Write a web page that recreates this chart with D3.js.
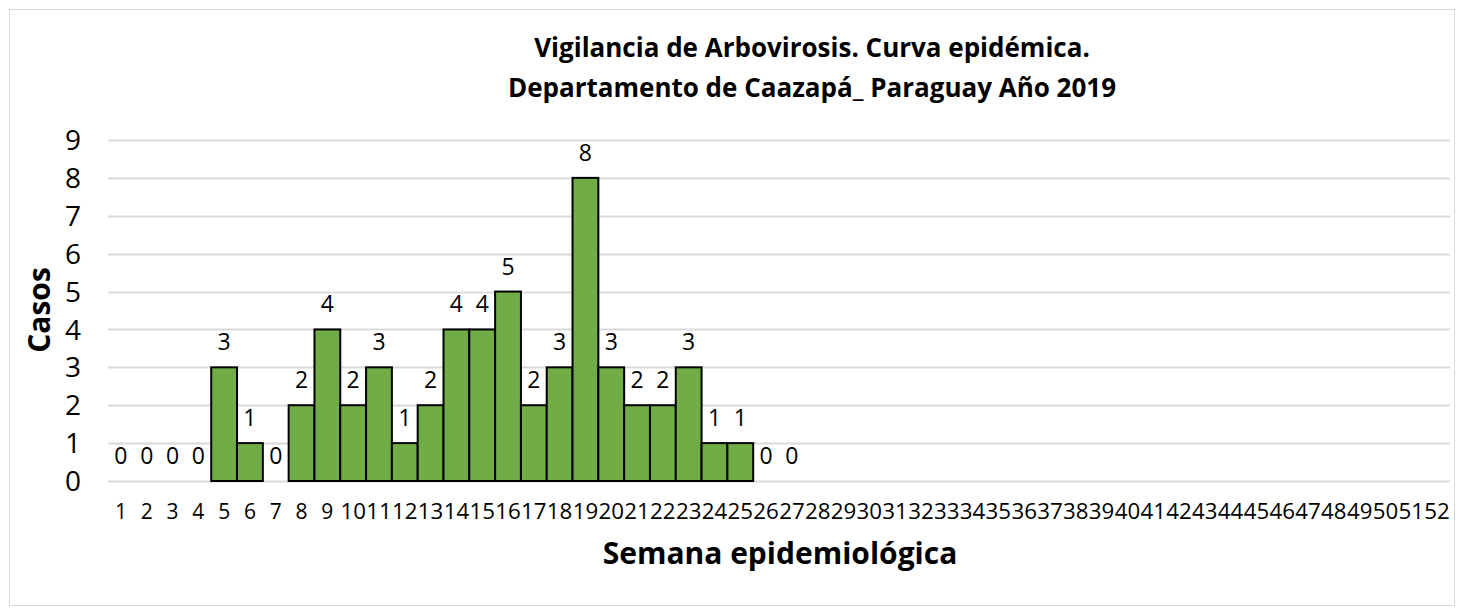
<!DOCTYPE html>
<html>
<head>
<meta charset="utf-8">
<script src="https://cdn.jsdelivr.net/npm/d3@7"></script>
<style>
  body { margin: 0; background: #fff; }
  text { font-family: "Open Sans", "Noto Sans", sans-serif; fill: #000; }
</style>
</head>
<body>
<svg id="chart" width="1463" height="610"></svg>
<script>
// semanas 1..52, casos (null = sin dato)
var weeks = d3.range(1, 53).map(String);
var cases = [0, 0, 0, 0, 3, 1, 0, 2, 4, 2, 3, 1, 2, 4, 4, 5, 2, 3, 8, 3, 2, 2, 3, 1, 1, 0, 0];
var yTicks = [0, 1, 2, 3, 4, 5, 6, 7, 8, 9];
var titleLines = ["Vigilancia de Arbovirosis. Curva epidémica.", "Departamento de Caazapá_ Paraguay Año 2019"];

var data = weeks.map(function (w, i) {
    return { week: w, value: i < cases.length ? cases[i] : null };
});

var svg = d3.select("#chart");
var plotL = 108, plotR = 1450, plotT = 140, plotB = 481;

svg.append("rect")
    .attr("x", 9.5).attr("y", 9.5)
    .attr("width", 1445).attr("height", 596)
    .attr("fill", "#fff")
    .attr("stroke", "#d9d9d9");

var x = d3.scaleBand().domain(weeks).range([plotL, plotR]).padding(0);
var y = d3.scaleLinear().domain([0, 9]).range([plotB, plotT]);

// gridlines
svg.append("g")
    .selectAll("line")
    .data(yTicks)
    .join("line")
    .attr("x1", plotL).attr("x2", plotR)
    .attr("y1", function (d) { return Math.round(y(d)) + 0.5; })
    .attr("y2", function (d) { return Math.round(y(d)) + 0.5; })
    .attr("stroke", "#d9d9d9")
    .attr("stroke-width", 2);

// y labels
svg.append("g")
    .selectAll("text")
    .data(yTicks)
    .join("text")
    .attr("x", 81)
    .attr("y", function (d) { return y(d); })
    .attr("dy", "0.36em")
    .attr("text-anchor", "end")
    .style("font-size", "28px")
    .text(function (d) { return d; });

// bars
svg.append("g")
    .selectAll("rect")
    .data(data.filter(function (d) { return d.value > 0; }))
    .join("rect")
    .attr("x", function (d) { return x(d.week); })
    .attr("y", function (d) { return y(d.value); })
    .attr("width", x.bandwidth())
    .attr("height", function (d) { return y(0) - y(d.value); })
    .attr("fill", "#70ad47")
    .attr("stroke", "#000")
    .attr("stroke-width", 2);

// data labels
svg.append("g")
    .selectAll("text")
    .data(data.filter(function (d) { return d.value !== null; }))
    .join("text")
    .attr("x", function (d) { return x(d.week) + x.bandwidth() / 2; })
    .attr("y", function (d) { return y(d.value) - 17; })
    .attr("text-anchor", "middle")
    .style("font-size", "23px")
    .text(function (d) { return d.value; });

// x tick labels
svg.append("g")
    .selectAll("text")
    .data(weeks)
    .join("text")
    .attr("x", function (d) { return x(d) + x.bandwidth() / 2; })
    .attr("y", 519)
    .attr("text-anchor", "middle")
    .attr("textLength", function (d) { return d.length > 1 ? 25.5 : null; })
    .attr("lengthAdjust", "spacingAndGlyphs")
    .style("font-size", "21px")
    .text(function (d) { return d; });

// title
svg.append("text")
    .attr("text-anchor", "middle")
    .style("font-size", "26px")
    .style("font-weight", "bold")
    .selectAll("tspan")
    .data(titleLines)
    .join("tspan")
    .attr("x", 812)
    .attr("y", function (d, i) { return 57 + i * 40; })
    .text(function (d) { return d; });

// axis titles
svg.append("text")
    .attr("transform", "translate(50,310) rotate(-90)")
    .attr("text-anchor", "middle")
    .style("font-size", "30px")
    .style("font-weight", "bold")
    .text("Casos");

svg.append("text")
    .attr("x", 780)
    .attr("y", 564)
    .attr("text-anchor", "middle")
    .style("font-size", "30px")
    .style("font-weight", "bold")
    .text("Semana epidemiológica");
</script>
</body>
</html>
